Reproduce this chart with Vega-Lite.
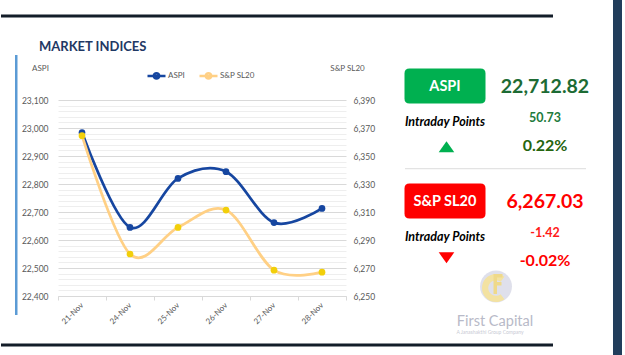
{
  "$schema": "https://vega.github.io/schema/vega-lite/v6.json",
  "background": "white",
  "padding": 0,
  "bounds": "flush",
  "spacing": 49,
  "config": {
    "font": "Lato",
    "view": {"stroke": null},
    "locale": {"number": {"decimal": ".", "thousands": ",", "grouping": [3], "currency": ["$", ""], "minus": "-"}}
  },
  "hconcat": [
    {
      "width": 288,
      "height": 196,
      "data": {"values": [
        {"date": "21-Nov", "aspi": 22984, "sp": 6364.5},
        {"date": "24-Nov", "aspi": 22645, "sp": 6280},
        {"date": "25-Nov", "aspi": 22820, "sp": 6299},
        {"date": "26-Nov", "aspi": 22844, "sp": 6311.4},
        {"date": "27-Nov", "aspi": 22662.09, "sp": 6268.45},
        {"date": "28-Nov", "aspi": 22712.82, "sp": 6267.03}
      ]},
      "layer": [
        {
          "mark": {"type": "line", "interpolate": "cardinal", "strokeWidth": 2.75},
          "encoding": {
            "x": {"field": "date", "type": "ordinal", "sort": null,
              "scale": {"type": "band", "domain": ["21-Nov", "24-Nov", "25-Nov", "26-Nov", "27-Nov", "28-Nov"], "paddingInner": 0, "paddingOuter": 0},
              "axis": {"title": null, "labelAngle": -45, "labelAlign": "right", "labelBaseline": "middle", "labelFontSize": 8, "labelColor": "#595959", "labelPadding": 4, "tickBand": "extent", "tickSize": 4, "tickColor": "#d9d9d9", "domainColor": "#d9d9d9", "grid": false}},
            "y": {"field": "aspi", "type": "quantitative",
              "scale": {"domain": [22400, 23100], "nice": false, "zero": false},
              "axis": {"orient": "left", "title": "ASPI", "titleAngle": 0, "titleX": -18, "titleY": -32, "titleAlign": "center", "titleBaseline": "middle", "titleFontSize": 8, "titleFontWeight": "normal", "titleColor": "#595959",
                "values": [22400, 22500, 22600, 22700, 22800, 22900, 23000, 23100], "format": ",.0f", "labelOverlap": false, "labelFlush": false,
                "labelFontSize": 8.5, "labelColor": "#595959", "labelPadding": 10, "ticks": false, "domain": false,
                "grid": true, "gridColor": "#d9d9d9", "gridWidth": 1}},
            "color": {"datum": "ASPI", "type": "nominal",
              "scale": {"domain": ["ASPI", "S&P SL20"], "range": ["#1646a0", "#ffd085"]},
              "legend": {"orient": "none", "legendX": 88, "legendY": -35, "direction": "horizontal", "title": null,
                "symbolType": "M-1,0H1M0.3,0A0.3,0.3,0,1,1,-0.3,0A0.3,0.3,0,1,1,0.3,0", "symbolSize": 324, "symbolStrokeWidth": 2.5,
                "labelFontSize": 8, "labelColor": "#595959", "labelOffset": 1, "columnPadding": 9, "padding": 0}}
          }
        },
        {
          "mark": {"type": "line", "interpolate": "cardinal", "strokeWidth": 2.75},
          "encoding": {
            "x": {"field": "date", "type": "ordinal", "sort": null,
              "scale": {"type": "band", "domain": ["21-Nov", "24-Nov", "25-Nov", "26-Nov", "27-Nov", "28-Nov"], "paddingInner": 0, "paddingOuter": 0},
              "axis": null},
            "y": {"field": "sp", "type": "quantitative",
              "scale": {"domain": [6250, 6390], "nice": false, "zero": false},
              "axis": {"orient": "right", "title": "S&P SL20", "titleAngle": 0, "titleX": 1, "titleY": -32, "titleAlign": "center", "titleBaseline": "middle", "titleFontSize": 8, "titleFontWeight": "normal", "titleColor": "#595959",
                "values": [6250, 6270, 6290, 6310, 6330, 6350, 6370, 6390], "format": ",.0f", "labelOverlap": false, "labelFlush": false,
                "labelFontSize": 8.5, "labelColor": "#595959", "labelPadding": 7, "ticks": false, "domain": false, "grid": false}},
            "color": {"datum": "S&P SL20", "type": "nominal"}
          }
        },
        {
          "mark": {"type": "point", "filled": true, "size": 45, "opacity": 1, "color": "#1646a0"},
          "encoding": {
            "x": {"field": "date", "type": "ordinal", "sort": null,
              "scale": {"type": "band", "domain": ["21-Nov", "24-Nov", "25-Nov", "26-Nov", "27-Nov", "28-Nov"], "paddingInner": 0, "paddingOuter": 0},
              "axis": null},
            "y": {"field": "aspi", "type": "quantitative",
              "scale": {"domain": [22400, 23100], "nice": false, "zero": false},
              "axis": {"orient": "left", "title": null, "labels": false, "ticks": false, "domain": false, "grid": true, "gridColor": "#eeeeee", "gridWidth": 1,
                "values": [22420, 22440, 22460, 22480, 22520, 22540, 22560, 22580, 22620, 22640, 22660, 22680, 22720, 22740, 22760, 22780, 22820, 22840, 22860, 22880, 22920, 22940, 22960, 22980, 23020, 23040, 23060, 23080]}}
          }
        },
        {
          "mark": {"type": "point", "filled": true, "size": 45, "opacity": 1, "color": "#f2cf0a"},
          "encoding": {
            "x": {"field": "date", "type": "ordinal", "sort": null,
              "scale": {"type": "band", "domain": ["21-Nov", "24-Nov", "25-Nov", "26-Nov", "27-Nov", "28-Nov"], "paddingInner": 0, "paddingOuter": 0},
              "axis": null},
            "y": {"field": "sp", "type": "quantitative",
              "scale": {"domain": [6250, 6390], "nice": false, "zero": false},
              "axis": null}
          }
        },
        {
          "data": {"values": [{}]},
          "layer": [
            {
              "mark": {"type": "rect", "color": "#131d29"},
              "encoding": {
                "x": {"datum": -0.19792, "type": "quantitative", "scale": {"domain": [0, 1], "nice": false, "zero": false}, "axis": null},
                "x2": {"datum": 1.71875},
                "y": {"datum": 1.43622, "type": "quantitative", "scale": {"domain": [0, 1], "nice": false, "zero": false}, "axis": null},
                "y2": {"datum": 1.42092}
              }
            },
            {
              "mark": {"type": "rect", "color": "#131d29"},
              "encoding": {
                "x": {"datum": -0.19792, "type": "quantitative"},
                "x2": {"datum": 1.71875},
                "y": {"datum": -0.24235, "type": "quantitative"},
                "y2": {"datum": -0.25765}
              }
            },
            {
              "mark": {"type": "rect", "color": "#5b9bd5"},
              "encoding": {
                "x": {"datum": -0.14931, "type": "quantitative"},
                "x2": {"datum": -0.14063},
                "y": {"datum": 1.22959, "type": "quantitative"},
                "y2": {"datum": -0.09694}
              }
            },
            {
              "mark": {"type": "rect", "color": "#213d5b"},
              "encoding": {
                "x": {"datum": 1.92708, "type": "quantitative"},
                "x2": {"datum": 1.95833},
                "y": {"datum": 1.5102, "type": "quantitative"},
                "y2": {"datum": -0.30102}
              }
            },
            {
              "mark": {"type": "text", "text": "MARKET INDICES", "align": "left", "baseline": "middle", "fontSize": 13, "fontWeight": "bold", "color": "#1f3864"},
              "encoding": {
                "x": {"datum": -0.06597, "type": "quantitative"},
                "y": {"datum": 1.27041, "type": "quantitative"}
              }
            }
          ]
        }
      ],
      "resolve": {"scale": {"x": "independent", "y": "independent"}}
    },
    {
      "width": 200,
      "height": 230,
      "data": {"values": [
        {"index": "ASPI", "value": 22712.82, "change": 50.73, "pct": 0.0022, "dir": "up"},
        {"index": "S&P SL20", "value": 6267.03, "change": -1.42, "pct": -0.0002, "dir": "down"}
      ]},
      "layer": [
        {
          "mark": {"type": "point", "shape": "M-0.877,-0.432H0.877Q1,-0.432,1,-0.309V0.309Q1,0.432,0.877,0.432H-0.877Q-1,0.432,-1,0.309V-0.309Q-1,-0.432,-0.877,-0.432Z", "size": 6561, "filled": true, "opacity": 1, "strokeWidth": 0},
          "encoding": {
            "x": {"datum": "badge", "type": "nominal", "scale": {"type": "band", "domain": ["badge", "figure"], "paddingInner": 0, "paddingOuter": 0}, "axis": null, "bandPosition": 0.5},
            "y": {"field": "index", "type": "nominal", "scale": {"type": "band", "domain": ["ASPI", "S&P SL20"], "paddingInner": 0, "paddingOuter": 0}, "axis": null, "bandPosition": -0.122},
            "fill": {"condition": {"test": "datum.dir == 'up'", "value": "#00b050"}, "value": "#ff0000"}
          }
        },
        {
          "mark": {"type": "text", "fontSize": 14.5, "fontWeight": "bold", "color": "white", "baseline": "middle", "align": "center"},
          "encoding": {
            "x": {"datum": "badge", "type": "nominal", "bandPosition": 0.5},
            "y": {"field": "index", "type": "nominal", "bandPosition": -0.115},
            "text": {"field": "index", "type": "nominal"}
          }
        },
        {
          "mark": {"type": "text", "fontSize": 19.5, "fontWeight": "bold", "baseline": "middle", "align": "center"},
          "encoding": {
            "x": {"datum": "figure", "type": "nominal", "bandPosition": 0.5},
            "y": {"field": "index", "type": "nominal", "bandPosition": -0.111},
            "text": {"field": "value", "type": "quantitative", "format": ",.2f"},
            "color": {"condition": {"test": "datum.dir == 'up'", "value": "#1d6b34"}, "value": "#ff0000"}
          }
        },
        {
          "mark": {"type": "text", "text": "Intraday Points", "fontSize": 12.5, "fontWeight": "bold", "fontStyle": "italic", "color": "#000000", "baseline": "middle", "align": "center"},
          "encoding": {
            "x": {"datum": "badge", "type": "nominal", "bandPosition": 0.5},
            "y": {"field": "index", "type": "nominal", "bandPosition": 0.195}
          }
        },
        {
          "mark": {"type": "text", "fontSize": 12.5, "fontWeight": "bold", "baseline": "middle", "align": "center"},
          "encoding": {
            "x": {"datum": "figure", "type": "nominal", "bandPosition": 0.5},
            "y": {"field": "index", "type": "nominal", "bandPosition": 0.16},
            "text": {"field": "change", "type": "quantitative", "format": ".2f"},
            "color": {"condition": {"test": "datum.dir == 'up'", "value": "#217a3c"}, "value": "#ff1a1a"}
          }
        },
        {
          "transform": [{"filter": "datum.dir == 'up'"}],
          "mark": {"type": "point", "shape": "M0,-0.7L1,0.7L-1,0.7Z", "size": 243, "filled": true, "opacity": 1, "strokeWidth": 0, "color": "#00b050"},
          "encoding": {
            "x": {"datum": "badge", "type": "nominal", "bandPosition": 0.515},
            "y": {"field": "index", "type": "nominal", "bandPosition": 0.406}
          }
        },
        {
          "transform": [{"filter": "datum.dir == 'down'"}],
          "mark": {"type": "point", "shape": "M-1,-0.7L1,-0.7L0,0.7Z", "size": 243, "filled": true, "opacity": 1, "strokeWidth": 0, "color": "#ff0000"},
          "encoding": {
            "x": {"datum": "badge", "type": "nominal", "bandPosition": 0.515},
            "y": {"field": "index", "type": "nominal", "bandPosition": 0.372}
          }
        },
        {
          "mark": {"type": "text", "fontSize": 16, "fontWeight": "bold", "baseline": "middle", "align": "center"},
          "encoding": {
            "x": {"datum": "figure", "type": "nominal", "bandPosition": 0.5},
            "y": {"field": "index", "type": "nominal", "bandPosition": 0.4},
            "text": {"field": "pct", "type": "quantitative", "format": ".2%"},
            "color": {"condition": {"test": "datum.dir == 'up'", "value": "#26650f"}, "value": "#ff0000"}
          }
        },
        {
          "transform": [{"filter": "datum.dir == 'up'"}],
          "mark": {"type": "point", "shape": "M-1,0H1", "size": 32761, "filled": false, "opacity": 1, "strokeWidth": 1.2, "color": "#e3e3e3"},
          "encoding": {
            "x": {"datum": "figure", "type": "nominal", "bandPosition": 0.005},
            "y": {"field": "index", "type": "nominal", "bandPosition": 0.596}
          }
        },
        {
          "transform": [{"filter": "datum.dir == 'down'"}],
          "mark": {"type": "point", "shape": "circle", "size": 1018, "filled": true, "opacity": 0.85, "strokeWidth": 0, "color": "#d9dbe7"},
          "encoding": {
            "x": {"datum": "figure", "type": "nominal", "bandPosition": 0.01},
            "y": {"field": "index", "type": "nominal", "bandPosition": 0.622}
          }
        },
        {
          "transform": [{"filter": "datum.dir == 'down'"}],
          "mark": {"type": "point", "shape": "M0.6,-0.8A1,1,0,1,0,0.6,0.8L0.33,0.44A0.55,0.55,0,1,1,0.33,-0.44Z", "size": 784, "filled": true, "opacity": 1, "strokeWidth": 0, "color": "#f3e2a2"},
          "encoding": {
            "x": {"datum": "figure", "type": "nominal", "bandPosition": 0.01},
            "y": {"field": "index", "type": "nominal", "bandPosition": 0.635}
          }
        },
        {
          "transform": [{"filter": "datum.dir == 'down'"}],
          "mark": {"type": "point", "shape": "M-0.35,-1H0.55V-0.65H0V-0.2H0.45V0.15H0V1H-0.35Z", "size": 400, "filled": true, "opacity": 1, "strokeWidth": 0, "color": "#efd98a"},
          "encoding": {
            "x": {"datum": "figure", "type": "nominal", "bandPosition": 0.02},
            "y": {"field": "index", "type": "nominal", "bandPosition": 0.6}
          }
        },
        {
          "transform": [{"filter": "datum.dir == 'down'"}],
          "mark": {"type": "text", "text": "First Capital", "fontSize": 14.5, "color": "#b8bac8", "baseline": "middle", "align": "center"},
          "encoding": {
            "x": {"datum": "badge", "type": "nominal", "bandPosition": 1.0},
            "y": {"field": "index", "type": "nominal", "bandPosition": 0.93}
          }
        },
        {
          "transform": [{"filter": "datum.dir == 'down'"}],
          "mark": {"type": "text", "text": "A Janashakthi Group Company", "fontSize": 5, "color": "#c8cad4", "baseline": "middle", "align": "center"},
          "encoding": {
            "x": {"datum": "badge", "type": "nominal", "bandPosition": 0.95},
            "y": {"field": "index", "type": "nominal", "bandPosition": 1.017}
          }
        }
      ]
    }
  ]
}
